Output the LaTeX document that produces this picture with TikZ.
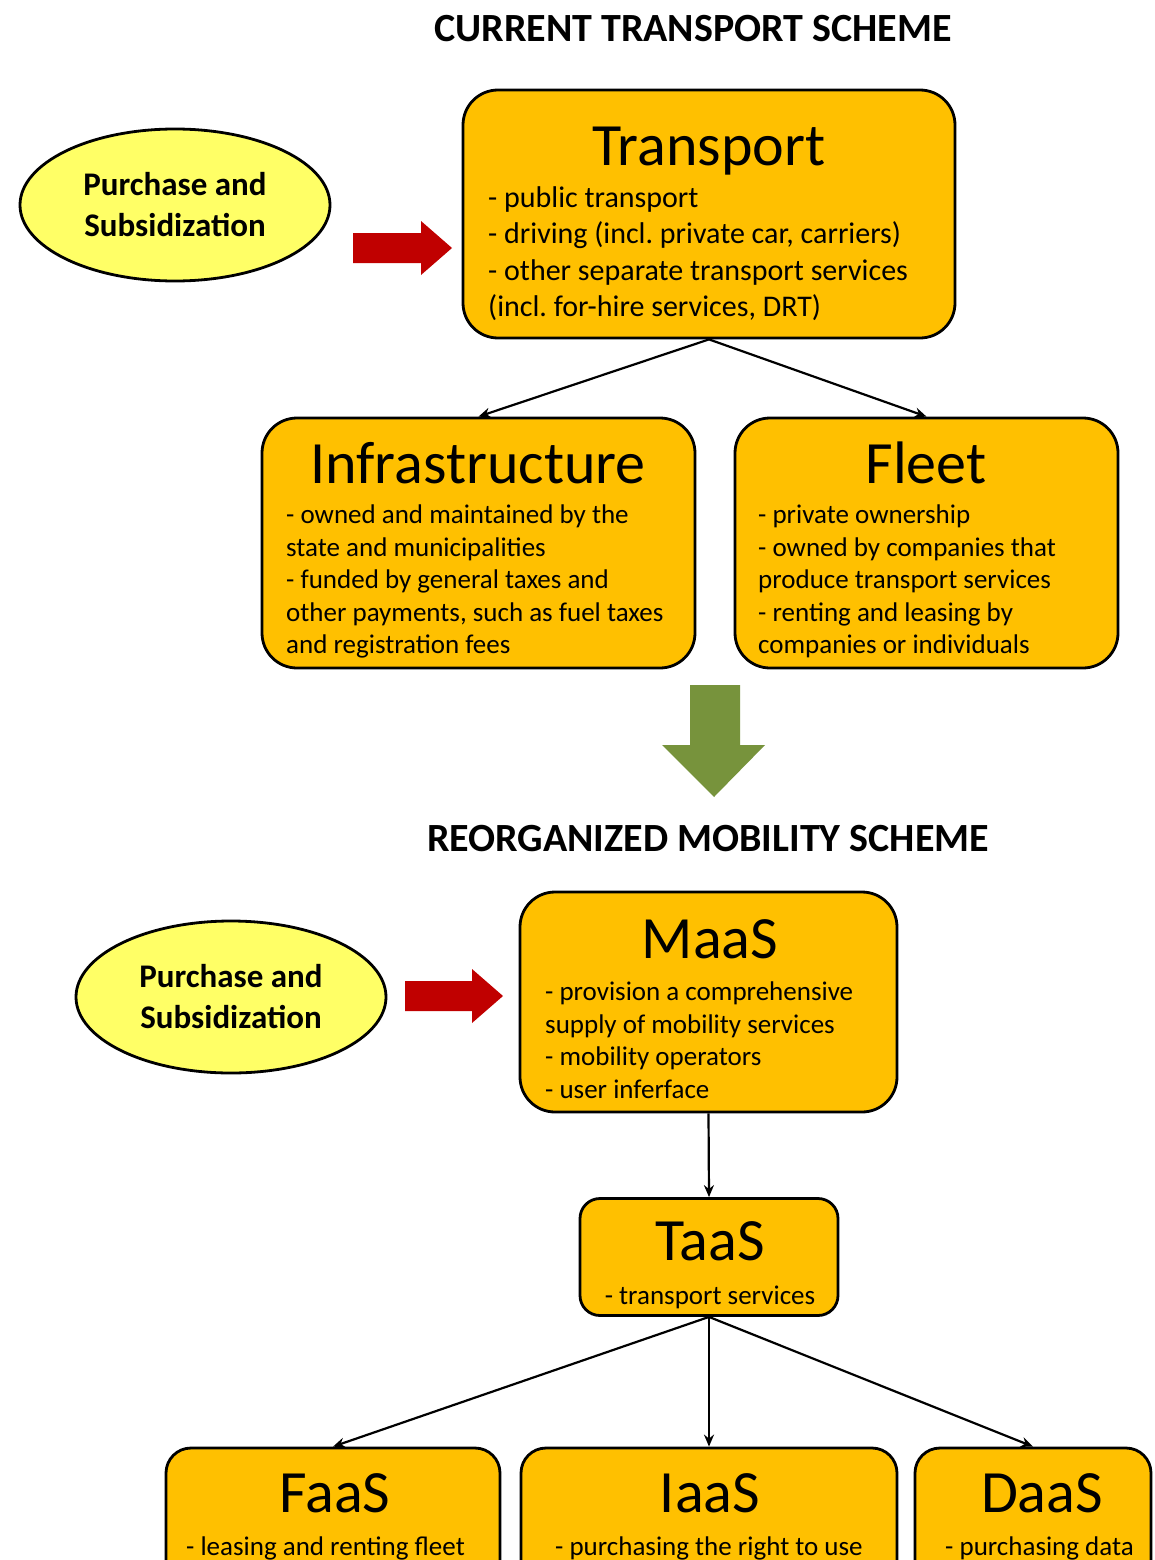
\documentclass[tikz,border=0pt]{standalone}
\usepackage{fontspec}
\setmainfont{Carlito}
\usetikzlibrary{shapes.geometric,arrows.meta}
\definecolor{boxfill}{HTML}{FFC000}
\definecolor{ellfill}{HTML}{FFFF66}
\definecolor{redarr}{HTML}{C00000}
\definecolor{greenarr}{HTML}{77933C}
\frenchspacing
\begin{document}
\begin{tikzpicture}[x=1pt,y=-1pt,
  box/.style={draw=black,line width=2.8pt,fill=boxfill,rounded corners=35pt,inner sep=0pt},
  ell/.style={ellipse,draw=black,line width=2.8pt,fill=ellfill,inner sep=0pt,minimum width=310pt,minimum height=152pt,align=center,font=\bfseries\fontsize{33}{41}\selectfont},
  ttl/.style={anchor=base,inner sep=0pt,font=\fontsize{60}{72}\selectfont},
  head/.style={anchor=base,inner sep=0pt,font=\bfseries\fontsize{40}{48}\selectfont},
  bodytxt/.style={anchor=north west,align=left,inner sep=0pt,font=\fontsize{27}{32.5}\selectfont},
  bigbody/.style={anchor=north west,align=left,inner sep=0pt,font=\fontsize{30}{36.5}\selectfont},
  lineb/.style={anchor=base west,inner sep=0pt,font=\fontsize{27}{32.5}\selectfont},
  conn/.style={draw=black,line width=2.2pt,-{Stealth[length=12pt,width=10pt]}}
]
\clip (0,0) rectangle (1154,1560);
\fill[white] (0,0) rectangle (1154,1560);

% ---------- current scheme ----------
\node[head] (h1) at (693,42) {CURRENT TRANSPORT SCHEME};

\node[box,minimum width=492pt,minimum height=248pt] (transport) at (709,214) {};
\node[ttl] (transportT) at (709,165) {Transport};
\node[bigbody] (transportB) at (488,186) {- public transport\\- driving (incl. private car, carriers)\\- other separate transport services\\(incl. for-hire services, DRT)};

\node[ell] (ps1) at (175,205) {Purchase and\\Subsidization};
\fill[redarr] (353,233) -- (421,233) -- (421,221) -- (452,248) -- (421,275) -- (421,263) -- (353,263) -- cycle;

\node[box,minimum width=433pt,minimum height=250pt] (infra) at (478.5,543) {};
\node[ttl] (infraT) at (478,483) {Infrastructure};
\node[bodytxt] (infraB) at (286,505) {- owned and maintained by the\\state and municipalities\\- funded by general taxes and\\other payments, such as fuel taxes\\and registration fees};

\node[box,minimum width=383pt,minimum height=250pt] (fleet) at (926.5,543) {};
\node[ttl] (fleetT) at (926,483) {Fleet};
\node[bodytxt] (fleetB) at (758,505) {- private ownership\\- owned by companies that\\produce transport services\\- renting and leasing by\\companies or individuals};

\draw[conn] (transport.south) -- (infra.north);
\draw[conn] (transport.south) -- (fleet.north);

\fill[greenarr] (690,685) -- (740,685) -- (740,745) -- (765,745) -- (714,797) -- (662,745) -- (690,745) -- cycle;

% ---------- reorganized scheme ----------
\node[head] (h2) at (708,851) {REORGANIZED MOBILITY SCHEME};

\node[ell] (ps2) at (231,997) {Purchase and\\Subsidization};
\fill[redarr] (405,981) -- (472,981) -- (472,969) -- (503,996) -- (472,1023) -- (472,1011) -- (405,1011) -- cycle;

\node[box,minimum width=377pt,minimum height=220pt] (maas) at (708.5,1002) {};
\node[ttl] (maasT) at (710,958) {MaaS};
\node[bodytxt] (maasB) at (545,982) {- provision a comprehensive\\supply of mobility services\\- mobility operators\\- user inferface};

\node[box,rounded corners=20pt,minimum width=258pt,minimum height=117pt] (taas) at (709,1257) {};
\node[ttl] (taasT) at (710,1260) {TaaS};
\node[lineb,anchor=base] (taasB) at (710,1304) {- transport services};

\node[box,rounded corners=25pt,minimum width=334pt,minimum height=220pt] (faas) at (333,1558) {};
\node[ttl] (faasT) at (335,1512) {FaaS};
\node[lineb] (faasB) at (186,1555) {- leasing and renting fleet};

\node[box,rounded corners=25pt,minimum width=376pt,minimum height=220pt] (iaas) at (709,1558) {};
\node[ttl] (iaasT) at (710,1512) {IaaS};
\node[lineb] (iaasB) at (555,1555) {- purchasing the right to use};

\node[box,rounded corners=25pt,minimum width=236pt,minimum height=220pt] (daas) at (1033,1558) {};
\node[ttl] (daasT) at (1042,1512) {DaaS};
\node[lineb] (daasB) at (945,1555) {- purchasing data};

\draw[conn] (maas.south) -- (taas.north);
\draw[conn] (taas.south) -- (faas.north);
\draw[conn] (taas.south) -- (iaas.north);
\draw[conn] (taas.south) -- (daas.north);
\end{tikzpicture}
\end{document}
